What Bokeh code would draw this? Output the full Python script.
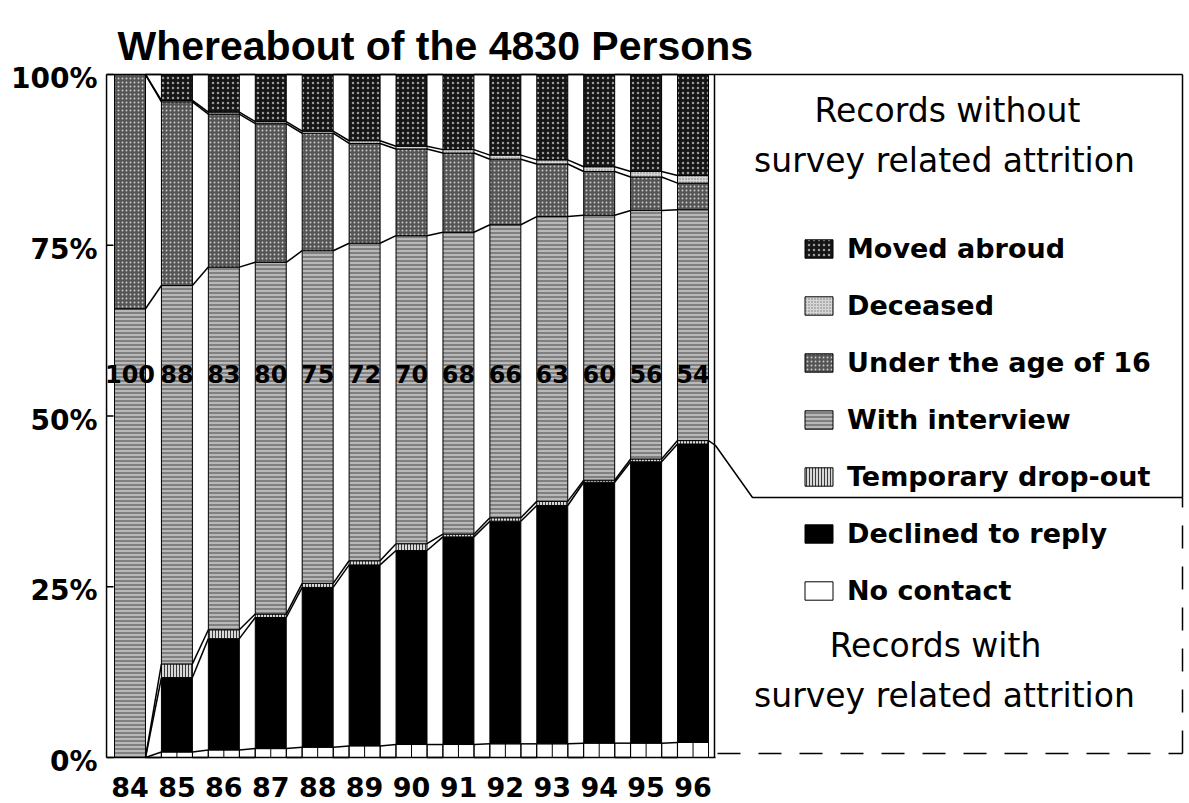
import numpy as np
from bokeh.plotting import figure
from bokeh.models import ColumnDataSource, Range1d, Label, Legend, LegendItem
from bokeh.embed import file_html
from bokeh.resources import INLINE
from bokeh.core.properties import value

# ---------------- data (percent of the 4830 persons) ----------------
years = ["84", "85", "86", "87", "88", "89", "90", "91", "92", "93", "94", "95", "96"]
bar_labels = ["100", "88", "83", "80", "75", "72", "70", "68", "66", "63", "60", "56", "54"]
no_contact = [0.0, 0.8, 1.1, 1.3, 1.5, 1.7, 1.9, 1.9, 2.0, 2.0, 2.1, 2.1, 2.2]
declined = [0.0, 10.9, 16.3, 19.2, 23.4, 26.5, 28.4, 30.4, 32.6, 34.9, 38.2, 41.2, 43.7]
temp_dropout = [0.0, 2.0, 1.3, 0.5, 0.6, 0.6, 1.0, 0.4, 0.5, 0.6, 0.3, 0.4, 0.5]
with_interview = [65.7, 55.4, 53.1, 51.5, 48.7, 46.5, 45.1, 44.2, 42.9, 41.7, 38.8, 36.4, 33.8]
under_16 = [34.3, 26.9, 22.4, 20.3, 17.2, 14.6, 12.7, 11.6, 9.6, 7.7, 6.4, 4.9, 3.9]
deceased = [0.0, 0.2, 0.3, 0.3, 0.3, 0.4, 0.4, 0.5, 0.6, 0.6, 0.7, 0.8, 1.1]
moved_abroad = [0.0, 3.8, 5.5, 6.9, 8.3, 9.7, 10.5, 11.0, 11.8, 12.5, 13.5, 14.2, 14.8]
y_ticks = [0, 25, 50, 75, 100]
y_tick_labels = ["0%", "25%", "50%", "75%", "100%"]

series = [
    ("No contact", no_contact),
    ("Declined to reply", declined),
    ("Temporary drop-out", temp_dropout),
    ("With interview", with_interview),
    ("Under the age of 16", under_16),
    ("Deceased", deceased),
    ("Moved abroud", moved_abroad),
]

styles = {
    "No contact": dict(fill_color="white"),
    "Declined to reply": dict(fill_color="black"),
    "Temporary drop-out": dict(fill_color="#d8d8d8", hatch_pattern="|", hatch_color="#3a3a3a",
                               hatch_scale=3, hatch_weight=1),
    "With interview": dict(fill_color="#808080", hatch_pattern="-", hatch_color="#f0f0f0",
                           hatch_scale=4, hatch_weight=1),
    "Under the age of 16": dict(fill_color="#555555", hatch_pattern=".", hatch_color="#c8c8c8",
                                hatch_scale=4, hatch_weight=1),
    "Deceased": dict(fill_color="#d6d6d6", hatch_pattern=".", hatch_color="#777777",
                     hatch_scale=3, hatch_weight=1),
    "Moved abroud": dict(fill_color="#151515", hatch_pattern=".", hatch_color="#9a9a9a",
                         hatch_scale=5, hatch_weight=1),
}

# ---------------- layout helpers (screen px of reference -> data) ----------------
PX_X = 46.92          # px per category
PX_Y = 6.83           # px per percent
X0_PX, Y0_PX = 129.5, 757.0
W = 0.66              # bar width
FIG_W, FIG_H = 1189, 803


def X(sx):
    return (sx - X0_PX) / PX_X


def Y(sy):
    return (Y0_PX - sy) / PX_Y


p = figure(width=FIG_W, height=FIG_H, output_backend="svg", toolbar_location=None,
           x_range=Range1d(X(0), X(FIG_W)),
           y_range=Range1d(Y(FIG_H), Y(0)),
           x_axis_location=None, y_axis_location=None,
           min_border_left=0, min_border_right=0, min_border_top=0, min_border_bottom=0)
p.outline_line_color = None
p.xgrid.visible = False
p.ygrid.visible = False
p.background_fill_color = "white"

idx = np.arange(len(years), dtype=float)
cum = np.zeros(len(years))
renderers = {}
tops = []
for name, vals in series:
    v = np.array(vals, dtype=float)
    src = ColumnDataSource(dict(x=idx, bottom=cum.copy(), top=cum + v))
    r = p.vbar(x="x", width=W, bottom="bottom", top="top", source=src,
               line_color="black", line_width=1, **styles[name])
    renderers[name] = r
    cum = cum + v
    tops.append(cum.copy())

# series lines connecting the stacked boundaries of neighbouring bars
for t in [np.zeros(len(years))] + tops:
    p.segment(x0=idx[:-1] + W / 2, y0=t[:-1], x1=idx[1:] - W / 2, y1=t[1:],
              line_color="black", line_width=1.5)

# small cells of the "no contact" row
nc_top = tops[0]
xp = np.ravel(np.column_stack([idx - W / 2, idx + W / 2]))
fp = np.repeat(nc_top, 2)
cell_x = np.arange(0, 3 * (len(years) - 1) + 1) / 3.0
cell_h = np.interp(cell_x, xp, fp)
p.segment(x0=cell_x, y0=np.zeros_like(cell_x), x1=cell_x, y1=cell_h,
          line_color="black", line_width=1)

# y axis: line, inward ticks, labels
x_left = -0.5
p.segment(x0=x_left, y0=0, x1=x_left, y1=100, line_color="black", line_width=1.5)
p.segment(x0=np.full(len(y_ticks), x_left), y0=y_ticks,
          x1=np.full(len(y_ticks), X(113)), y1=y_ticks, line_color="black", line_width=1.5)
p.text(x=np.full(len(y_ticks), X(97)), y=y_ticks, text=y_tick_labels, y_offset=4,
       text_align="right", text_baseline="middle", text_font=value("DejaVu Sans"),
       text_font_style="bold", text_font_size="28px", text_color="black")

# labels on the bars
p.text(x=idx, y=np.full(len(years), 56.2), text=bar_labels, text_align="center",
       text_baseline="middle", text_font=value("DejaVu Sans"),
       text_font_style="bold", text_font_size="24px", text_color="black")

# category labels below the axis
p.text(x=idx, y=np.full(len(years), Y(786)), text=years, text_align="center",
       text_baseline="middle", text_font=value("DejaVu Sans"),
       text_font_style="bold", text_font_size="27px", text_color="black")

# frame and right panel lines
blk = dict(line_color="black")
p.segment(x0=x_left, y0=0, x1=X(715), y1=0, line_width=1.5, **blk)         # x axis line
p.segment(x0=x_left, y0=100, x1=X(1182), y1=100, line_width=1.5, **blk)    # top line
p.segment(x0=X(714), y0=0, x1=X(714), y1=100, line_width=1.5, **blk)       # right edge of plot
p.segment(x0=X(1182), y0=Y(497), x1=X(1182), y1=100, line_width=1.5, **blk)
p.segment(x0=X(1182), y0=Y(753), x1=X(1182), y1=Y(497), line_width=1.5,
          line_dash="23 18", **blk)
p.segment(x0=X(717), y0=Y(753), x1=X(1182), y1=Y(753), line_width=1.5,
          line_dash="23 18", **blk)
p.line(x=[idx[-1] + W / 2, X(715), X(752), X(1182)],
       y=[tops[2][-1], Y(445), Y(497), Y(497)], line_width=1.5, **blk)

# legend
order = ["Moved abroud", "Deceased", "Under the age of 16", "With interview",
         "Temporary drop-out", "Declined to reply", "No contact"]
legend = Legend(items=[LegendItem(label=n, renderers=[renderers[n]]) for n in order],
                location=(801, 197), glyph_width=35, glyph_height=23,
                label_text_font="DejaVu Sans", label_text_font_style="bold",
                label_text_font_size="27px", label_text_color="black",
                label_standoff=11, spacing=26,
                padding=0, margin=0, border_line_color=None, background_fill_alpha=0)
p.add_layout(legend)

# headings
for txt, sx, sy in [("Records without", 947, 110),
                    ("survey related attrition", 944, 160),
                    ("Records with", 935, 645),
                    ("survey related attrition", 944, 695)]:
    p.add_layout(Label(x=X(sx), y=Y(sy), text=txt, text_align="center",
                       text_baseline="middle", text_font="DejaVu Sans",
                       text_font_size="33px", text_color="black"))

# title
p.add_layout(Label(x=X(117), y=Y(45), text="Whereabout of the 4830 Persons",
                   text_align="left", text_baseline="alphabetic",
                   text_font="Liberation Sans", text_font_style="bold",
                   text_font_size="41px", text_color="black"))

open("out.html", "w").write(file_html(p, INLINE))
